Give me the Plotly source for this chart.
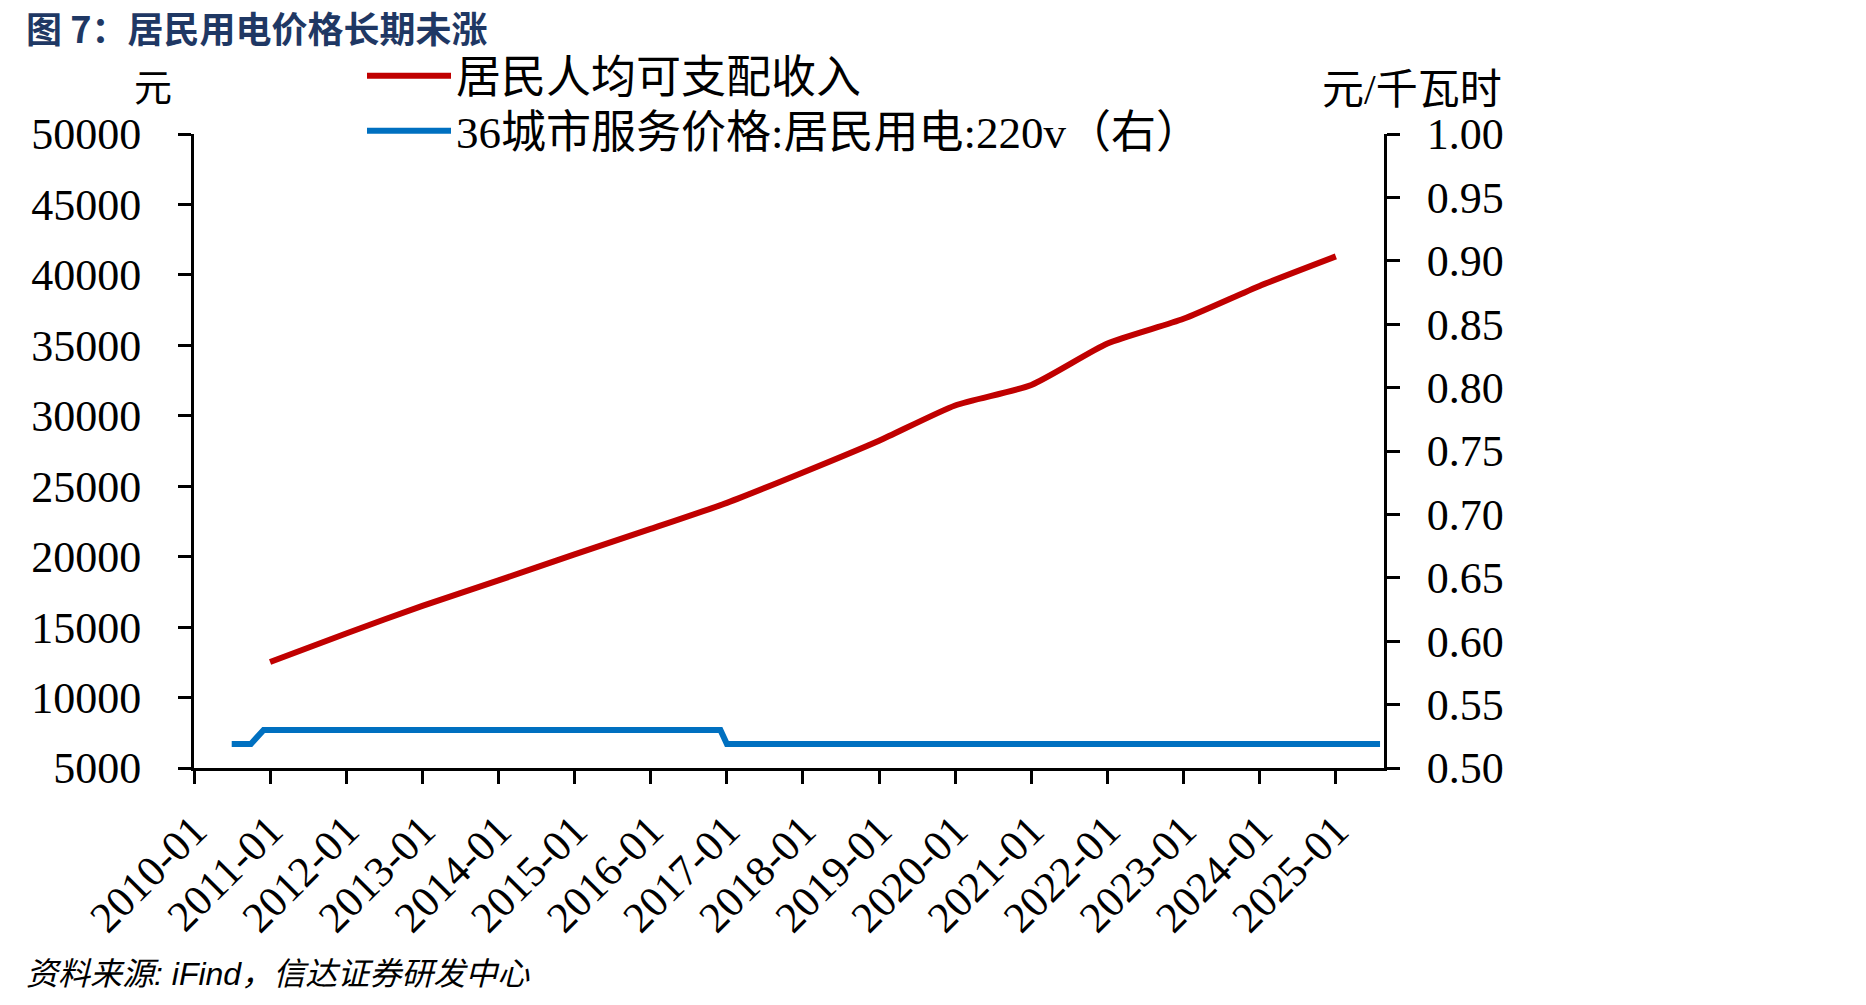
import plotly.graph_objects as go

# Data
income_dates = ["2011-01-01", "2012-01-01", "2013-01-01", "2014-01-01", "2015-01-01",
                "2016-01-01", "2017-01-01", "2018-01-01", "2019-01-01", "2020-01-01",
                "2021-01-01", "2022-01-01", "2023-01-01", "2024-01-01", "2025-01-01"]
income_values = [12520, 14551, 16510, 18311, 20167, 21966, 23821, 25974, 28228,
                 30733, 32189, 35128, 36883, 39218, 41314]

price_dates = ["2010-07-01", "2010-10-01", "2010-12-01", "2016-12-01", "2017-01-01", "2025-08-01"]
price_values = [0.519, 0.519, 0.530, 0.530, 0.519, 0.519]

tick_dates = [f"{y}-01-01" for y in range(2010, 2026)]
tick_labels = [f"{y}-01" for y in range(2010, 2026)]

RED = "#C00000"
BLUE = "#0070C0"
SERIF = "Liberation Serif, Times New Roman, serif"
CJK = "Liberation Serif, Noto Sans CJK SC, serif"

L, R, T, B = 194, 1384, 134, 768
W, H = 1866, 1005
pw, ph = R - L, B - T


def px(x):
    return (x - L) / pw


def py(y):
    return (B - y) / ph


fig = go.Figure()
fig.add_trace(go.Scatter(x=income_dates, y=income_values, name="居民人均可支配收入",
                         mode="lines", line=dict(color=RED, width=6, shape="spline", smoothing=0.6),
                         yaxis="y", legend="legend"))
fig.add_trace(go.Scatter(x=price_dates, y=price_values, name="36城市服务价格:居民用电:220v（右）",
                         mode="lines", line=dict(color=BLUE, width=6), yaxis="y2",
                         legend="legend2"))

legend_common = dict(xanchor="left", yanchor="middle",
                     font=dict(family=CJK, size=45, color="#000000"),
                     bgcolor="rgba(0,0,0,0)", itemwidth=84)

fig.update_layout(
    width=W, height=H,
    margin=dict(l=L, r=W - R, t=T, b=H - B, autoexpand=False),
    paper_bgcolor="white", plot_bgcolor="white",
    showlegend=True,
    legend=dict(x=px(362), y=py(76), **legend_common),
    legend2=dict(x=px(362), y=py(131), **legend_common),
    xaxis=dict(type="date", range=["2010-01-01", "2025-08-20"],
               tickmode="array", tickvals=tick_dates, ticktext=tick_labels,
               tickangle=-45, ticks="outside", ticklen=13, tickwidth=3, tickcolor="black",
               showline=True, linecolor="black", linewidth=3, showgrid=False, zeroline=False,
               ticklabelstandoff=4,
               tickfont=dict(family=SERIF, size=43, color="black")),
    yaxis=dict(range=[5000, 50000], dtick=5000, tick0=5000, ticks="outside", ticklen=13,
               tickwidth=3, tickcolor="black", showline=True, linecolor="black", linewidth=3,
               showgrid=False, zeroline=False, tickformat="d", ticklabelstandoff=28,
               tickfont=dict(family=SERIF, size=44, color="black")),
    yaxis2=dict(range=[0.5, 1.0], dtick=0.05, tick0=0.5, overlaying="y", side="right",
                ticks="outside", ticklen=13, tickwidth=3, tickcolor="black", showline=True,
                linecolor="black", linewidth=3, showgrid=False, zeroline=False, tickformat=".2f",
                ticklabelstandoff=18,
                tickfont=dict(family=SERIF, size=44, color="black")),
    annotations=[
        dict(text="<b>图 7：居民用电价格长期未涨</b>", xref="paper", yref="paper",
             x=px(24), y=py(27), xanchor="left", yanchor="middle", showarrow=False,
             font=dict(family="Noto Sans CJK SC", size=36, color="#1F3864")),
        dict(text="元", xref="paper", yref="paper", x=px(153), y=py(88),
             xanchor="center", yanchor="middle", showarrow=False,
             font=dict(family=CJK, size=38, color="black")),
        dict(text="元/千瓦时", xref="paper", yref="paper", x=px(1412), y=py(90),
             xanchor="center", yanchor="middle", showarrow=False,
             font=dict(family=CJK, size=42, color="black")),
        dict(text="<i>资料来源: iFind，信达证券研发中心</i>", xref="paper", yref="paper",
             x=px(24), y=py(974), xanchor="left", yanchor="middle", showarrow=False,
             font=dict(family="Liberation Sans, Noto Sans CJK SC", size=32, color="black")),
    ],
)

fig.write_html("out.html")
